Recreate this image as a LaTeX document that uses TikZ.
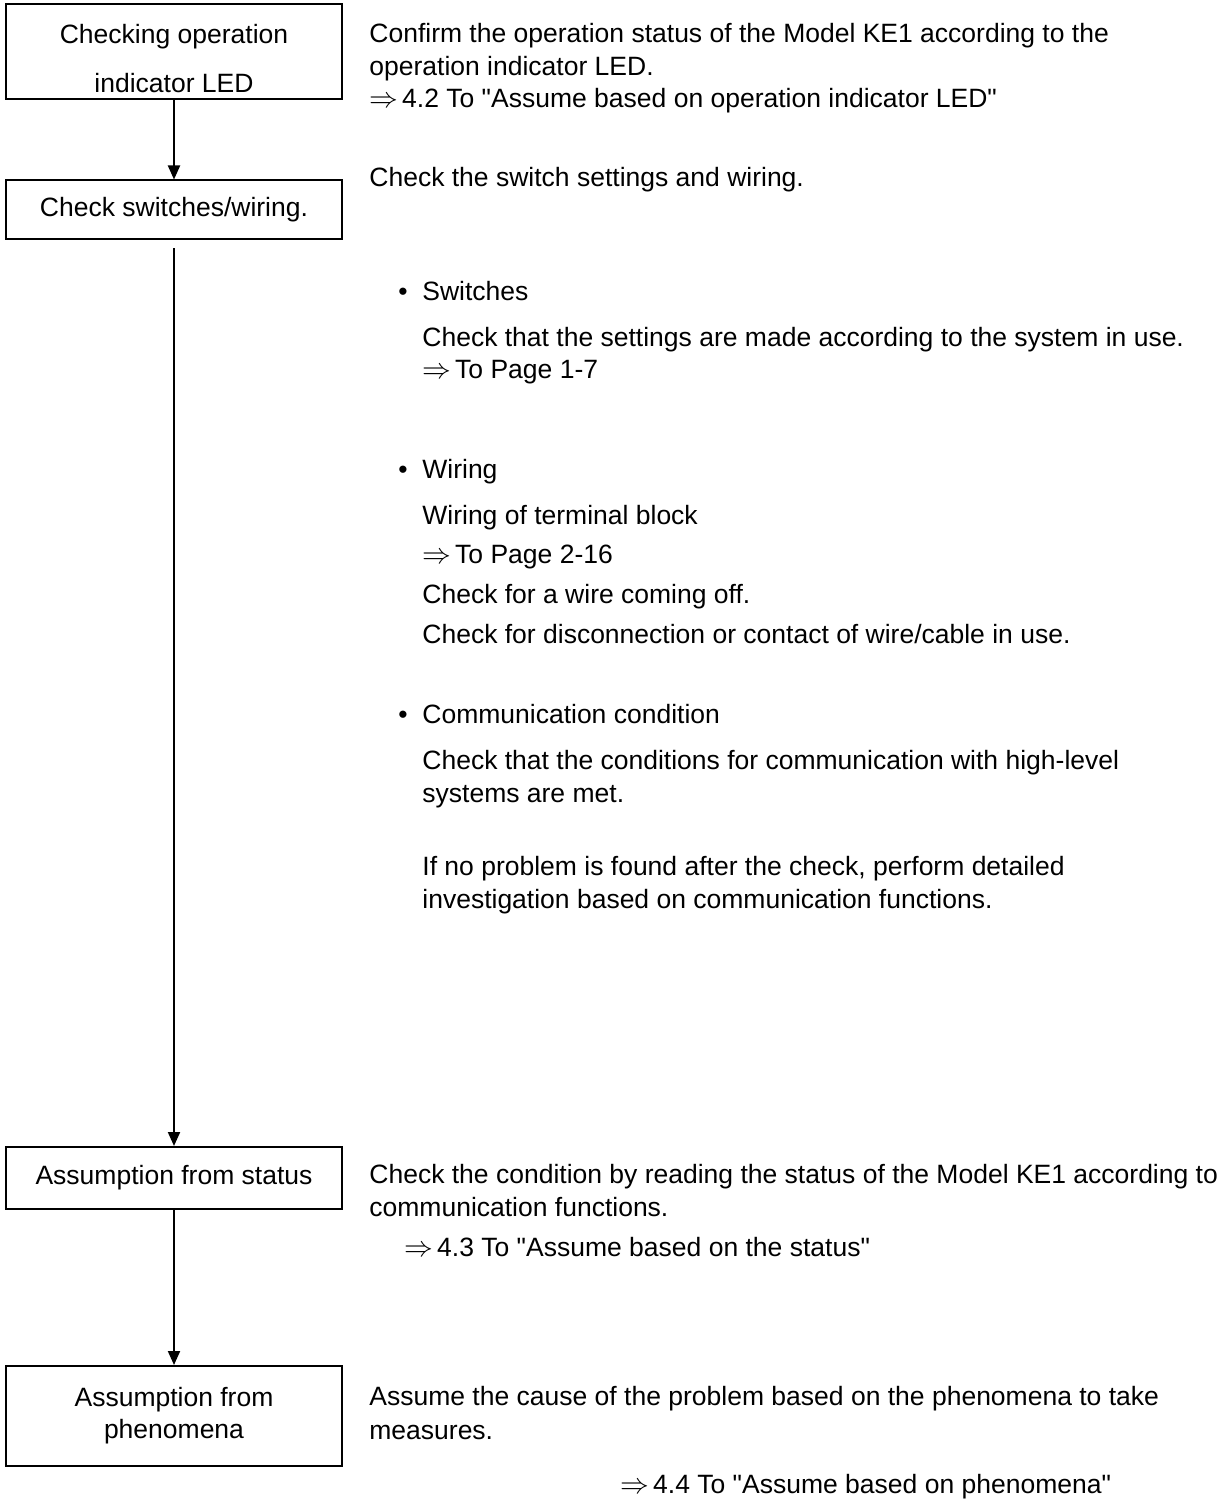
\documentclass[tikz,border=0pt]{standalone}
\usepackage{fontspec}
\setmainfont{Liberation Sans}
\usetikzlibrary{arrows.meta, positioning}
\newcommand{\q}{\textquotedbl}
\newcommand{\goto}{$\Rightarrow$\hspace{2pt}}
\tikzset{
	stepbox/.style={draw, line width=1pt, minimum width=168pt, align=center, inner sep=0pt}, % the boxes on the left
	txt/.style={anchor=base west, inner sep=0pt}, % one line of the explanation
	flow/.style={-{Triangle[length=7pt,width=6pt]}, line width=1pt}, % arrows between boxes
}

\begin{document}
\begin{tikzpicture}[x=0.5pt, y=-0.5pt, font=\fontsize{13.25}{16.5}\selectfont]
	\useasboundingbox (0,0) rectangle (1224,1508);
	% boxes
	\node[stepbox, minimum height=47.5pt] (led) at (174,52) {};
	\node[align=center, inner sep=0pt, font=\fontsize{13.25}{24.5}\selectfont] (ledtext) at (174,59) {Checking operation\\indicator LED};
	\node[stepbox, minimum height=29.5pt] (sw) at (174,210) {Check switches/wiring.};
	\node[stepbox, minimum height=31pt] (st) at (174,1178) {Assumption from status};
	\node[stepbox, minimum height=50pt, font=\fontsize{13.25}{16}\selectfont] (ph) at (174,1416) {Assumption from\\phenomena};
	% arrows
	\draw[flow] (led.south) -- (sw.north);
	\draw[flow, shorten <=4pt] (sw.south) -- (st.north);
	\draw[flow] (st.south) -- (ph.north);
	% text beside the boxes
	\node[txt] (c1) at (369,43) {Confirm the operation status of the Model KE1 according to the};
	\node[txt] (c2) at (369,76) {operation indicator LED.};
	\node[txt] (c3) at (369,108) {\goto 4.2 To \q Assume based on operation indicator LED\q};
	\node[txt] (s1) at (369,187) {Check the switch settings and wiring.};
	\node[txt] (b1) at (398,300) {•};
	\node[txt] (s2) at (422,300) {Switches};
	\node[txt] (s3) at (422,346) {Check that the settings are made according to the system in use.};
	\node[txt] (s4) at (422,379) {\goto To Page 1-7};
	\node[txt] (b2) at (398,478) {•};
	\node[txt] (w1) at (422,478) {Wiring};
	\node[txt] (w2) at (422,524) {Wiring of terminal block};
	\node[txt] (w3) at (422,563) {\goto To Page 2-16};
	\node[txt] (w4) at (422,603) {Check for a wire coming off.};
	\node[txt] (w5) at (422,643) {Check for disconnection or contact of wire/cable in use.};
	\node[txt] (b3) at (398,723) {•};
	\node[txt] (m1) at (422,723) {Communication condition};
	\node[txt] (m2) at (422,769) {Check that the conditions for communication with high-level};
	\node[txt] (m3) at (422,802) {systems are met.};
	\node[txt] (m4) at (422,875) {If no problem is found after the check, perform detailed};
	\node[txt] (m5) at (422,908) {investigation based on communication functions.};
	\node[txt] (t1) at (369,1183) {Check the condition by reading the status of the Model KE1 according to};
	\node[txt] (t2) at (369,1216) {communication functions.};
	\node[txt] (t3) at (404,1256) {\goto 4.3 To \q Assume based on the status\q};
	\node[txt] (p1) at (369,1405) {Assume the cause of the problem based on the phenomena to take};
	\node[txt] (p2) at (369,1439) {measures.};
	\node[txt] (p3) at (620,1493) {\goto 4.4 To \q Assume based on phenomena\q};
\end{tikzpicture}
\end{document}
